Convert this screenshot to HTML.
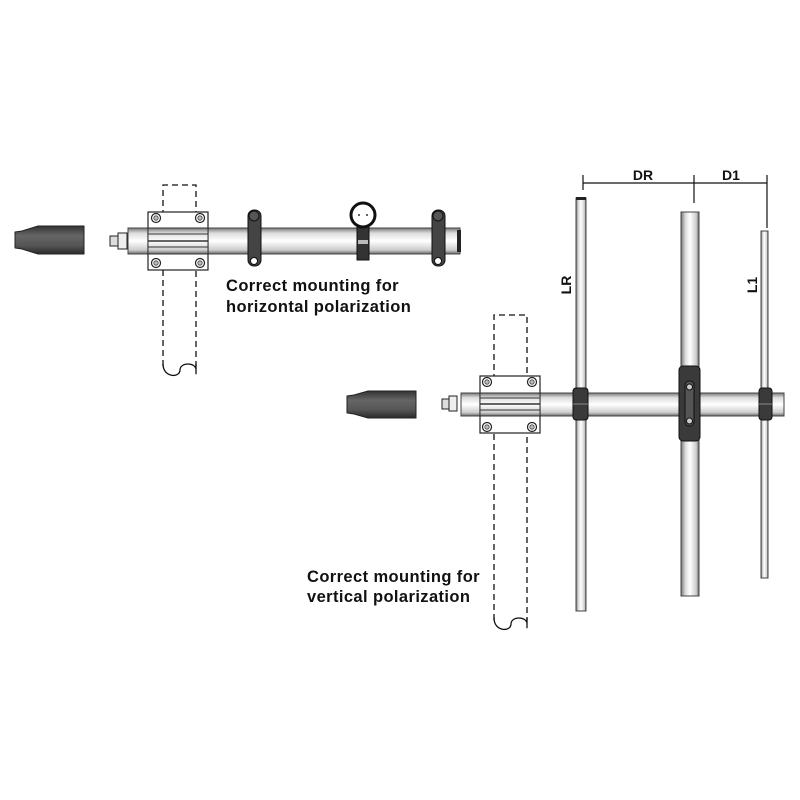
<!DOCTYPE html>
<html><head><style>html,body{margin:0;padding:0;background:#fff}svg{display:block}</style></head><body>
<svg width="800" height="800" viewBox="0 0 800 800" xmlns="http://www.w3.org/2000/svg" font-family="Liberation Sans, sans-serif">
<defs>
<linearGradient id="tubeH" x1="0" y1="0" x2="0" y2="1">
<stop offset="0" stop-color="#777"/><stop offset="0.2" stop-color="#ddd"/><stop offset="0.5" stop-color="#fff"/><stop offset="0.85" stop-color="#ccc"/><stop offset="1" stop-color="#666"/></linearGradient>
<linearGradient id="tubeV" x1="0" y1="0" x2="1" y2="0">
<stop offset="0" stop-color="#777"/><stop offset="0.25" stop-color="#ddd"/><stop offset="0.5" stop-color="#fff"/><stop offset="0.85" stop-color="#ccc"/><stop offset="1" stop-color="#666"/></linearGradient>
<linearGradient id="cap" x1="0" y1="0" x2="0" y2="1">
<stop offset="0" stop-color="#333"/><stop offset="0.35" stop-color="#666"/><stop offset="0.7" stop-color="#555"/><stop offset="1" stop-color="#2a2a2a"/></linearGradient>
<g id="bolt"><circle r="4.5" fill="#fff" stroke="#222" stroke-width="1.2"/><circle r="2.2" fill="#bbb" stroke="#444" stroke-width="0.8"/></g>
</defs>

<!-- ===== TOP (horizontal) ===== -->
<g fill="none" stroke="#111" stroke-width="1.3" stroke-dasharray="6,4">
<path d="M163 366 V185 H196 V366"/>
</g>
<path d="M163 364 C163 378 180 378 180 370 C180 362 196 362 196 370 C196 378 196 372 196 364" fill="none" stroke="#111" stroke-width="1.3"/>
<path d="M15 232 L22 231 L38 226 L84 226 L84 254 L38 254 L22 249 L15 248 Z" fill="url(#cap)" stroke="#222"/>
<rect x="110" y="236" width="9" height="10" fill="#ddd" stroke="#222"/>
<rect x="118" y="233" width="9" height="16" fill="#eee" stroke="#222"/>
<rect x="128" y="228" width="332" height="26" fill="url(#tubeH)" stroke="#444"/>
<rect x="457" y="230" width="4" height="22" fill="#222"/>
<rect x="148" y="212" width="60" height="58" fill="#fff" stroke="#222" stroke-width="1.2"/>
<rect x="148" y="228" width="60" height="26" fill="url(#tubeH)" stroke="#333"/>
<line x1="148" y1="234" x2="208" y2="234" stroke="#333"/><line x1="148" y1="241" x2="208" y2="241" stroke="#333" stroke-width="1.5"/><line x1="148" y1="247" x2="208" y2="247" stroke="#333"/>
<use href="#bolt" x="156" y="218"/><use href="#bolt" x="200" y="218"/><use href="#bolt" x="156" y="263"/><use href="#bolt" x="200" y="263"/>
<g>
<rect x="248" y="210" width="13" height="56" rx="6" fill="#444" stroke="#111"/>
<circle cx="254" cy="216" r="5" fill="#555" stroke="#111"/>
<circle cx="254" cy="261" r="3.5" fill="#fff" stroke="#111"/>
<rect x="432" y="210" width="13" height="56" rx="6" fill="#444" stroke="#111"/>
<circle cx="438" cy="216" r="5" fill="#555" stroke="#111"/>
<circle cx="438" cy="261" r="3.5" fill="#fff" stroke="#111"/>
</g>
<rect x="357" y="222" width="12" height="38" fill="#333" stroke="#111"/>
<rect x="358" y="240" width="10" height="4" fill="#bbb"/>
<circle cx="363" cy="215" r="12" fill="#fff" stroke="#111" stroke-width="3"/>
<circle cx="359" cy="215" r="1" fill="#333"/><circle cx="367" cy="215" r="1" fill="#333"/>
<text x="226" y="291" font-size="16.5" font-weight="bold" fill="#111" letter-spacing="0.4">Correct mounting for</text>
<text x="226" y="312" font-size="16.5" font-weight="bold" fill="#111" letter-spacing="0.4">horizontal polarization</text>

<!-- ===== BOTTOM (vertical) ===== -->
<g fill="none" stroke="#111" stroke-width="1.3" stroke-dasharray="6,4">
<path d="M494 620 V315 H527 V620"/>
</g>
<path d="M494 618 C494 632 511 632 511 624 C511 616 527 616 527 624 C527 632 527 626 527 618" fill="none" stroke="#111" stroke-width="1.3"/>
<path d="M347 396 L354 395 L368 391 L416 391 L416 418 L368 418 L354 414 L347 413 Z" fill="url(#cap)" stroke="#222"/>
<rect x="442" y="399" width="8" height="10" fill="#ddd" stroke="#222"/>
<rect x="449" y="396" width="8" height="15" fill="#eee" stroke="#222"/>
<rect x="576" y="198" width="10" height="413" fill="url(#tubeV)" stroke="#444"/>
<rect x="576" y="197" width="10" height="3" fill="#222"/>
<rect x="681" y="212" width="18" height="384" fill="url(#tubeV)" stroke="#444"/>
<rect x="761" y="231" width="7" height="347" fill="url(#tubeV)" stroke="#444"/>
<rect x="461" y="393" width="323" height="23" fill="url(#tubeH)" stroke="#444"/>
<rect x="480" y="376" width="60" height="57" fill="#fff" stroke="#222" stroke-width="1.2"/>
<rect x="480" y="393" width="60" height="23" fill="url(#tubeH)" stroke="#333"/>
<line x1="480" y1="398" x2="540" y2="398" stroke="#333"/><line x1="480" y1="404" x2="540" y2="404" stroke="#333" stroke-width="1.5"/><line x1="480" y1="410" x2="540" y2="410" stroke="#333"/>
<use href="#bolt" x="487" y="382"/><use href="#bolt" x="532" y="382"/><use href="#bolt" x="487" y="427"/><use href="#bolt" x="532" y="427"/>
<rect x="573" y="388" width="15" height="32" rx="3" fill="#3a3a3a" stroke="#111"/>
<line x1="573" y1="404" x2="588" y2="404" stroke="#888"/>
<rect x="759" y="388" width="13" height="32" rx="3" fill="#3a3a3a" stroke="#111"/>
<line x1="759" y1="404" x2="772" y2="404" stroke="#888"/>
<rect x="679" y="366" width="21" height="75" rx="4" fill="#3a3a3a" stroke="#111"/>
<rect x="685" y="381" width="9" height="45" rx="4" fill="#555" stroke="#111"/>
<circle cx="689.5" cy="387" r="3" fill="#ccc" stroke="#111"/><circle cx="689.5" cy="421" r="3" fill="#ccc" stroke="#111"/>
<g stroke="#111" stroke-width="1.2">
<line x1="583" y1="183" x2="767" y2="183"/>
<line x1="583" y1="175" x2="583" y2="190"/>
<line x1="694" y1="175" x2="694" y2="203"/>
<line x1="767" y1="175" x2="767" y2="228"/>
</g>
<text x="643" y="180" font-size="14" font-weight="bold" fill="#111" text-anchor="middle">DR</text>
<text x="731" y="180" font-size="14" font-weight="bold" fill="#111" text-anchor="middle">D1</text>
<text transform="translate(571,285) rotate(-90)" font-size="14" font-weight="bold" fill="#111" text-anchor="middle">LR</text>
<text transform="translate(757,285) rotate(-90)" font-size="14" font-weight="bold" fill="#111" text-anchor="middle">L1</text>
<text x="307" y="582" font-size="16.5" font-weight="bold" fill="#111" letter-spacing="0.4">Correct mounting for</text>
<text x="307" y="602" font-size="16.5" font-weight="bold" fill="#111" letter-spacing="0.4">vertical polarization</text>
</svg>
</body></html>
